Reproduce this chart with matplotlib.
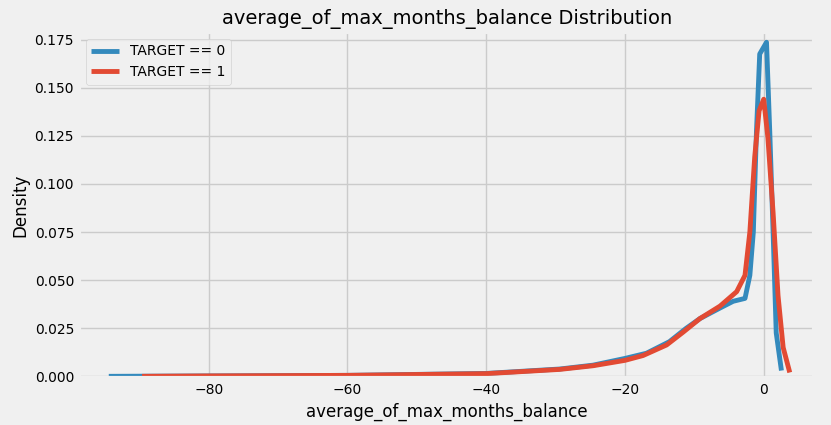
import numpy as np
import matplotlib
matplotlib.use('agg')
import matplotlib.pyplot as plt

plt.style.use('fivethirtyeight')
plt.rcParams['font.size'] = 10

# curves
x0 = [-94.4, -80, -60, -40, -29.4, -24.6, -20, -16.9, -13.6, -11.2, -9.2, -6.3, -4.4, -2.7, -2.0, -1.5,
      -1.05, -0.58, 0.4, 0.87, 1.35, 1.8, 2.55]
y0 = [0.0, 0.0002, 0.0005, 0.0015, 0.0038, 0.0058, 0.0093, 0.012, 0.018, 0.0249, 0.030, 0.0355, 0.039,
      0.0405, 0.0525, 0.075, 0.127, 0.1675, 0.1736, 0.127, 0.075, 0.0226, 0.003]
x1 = [-89.6, -80, -60, -40, -29.4, -24.6, -20, -17.4, -14, -11.6, -9.2, -6.3, -3.9, -2.7, -2.0, -1.3,
      -0.67, 0.0, 0.6, 1.35, 2.06, 2.8, 3.75]
y1 = [0.0, 0.0002, 0.0005, 0.0014, 0.0036, 0.0055, 0.0083, 0.0108, 0.0163, 0.023, 0.030, 0.0365, 0.044,
      0.0525, 0.075, 0.114, 0.138, 0.144, 0.124, 0.085, 0.042, 0.015, 0.002]

fig = plt.figure(figsize=(8.31, 4.25), dpi=100)
ax = fig.add_subplot(111)
ax.plot(x0, y0, lw=3.5, color='#348ABD', label='TARGET == 0')
ax.plot(x1, y1, lw=3.5, color='#E24A33', label='TARGET == 1')
ax.set_xlim(-98.7, 7.3)
ax.set_ylim(-0.001, 0.179)
ax.set_xticks([-80, -60, -40, -20, 0])
ax.set_yticks(np.arange(0, 0.176, 0.025))
ax.yaxis.set_major_formatter(matplotlib.ticker.FormatStrFormatter('%.3f'))
ax.tick_params(labelsize=10)
ax.set_xlabel('average_of_max_months_balance', fontsize=12)
ax.set_ylabel('Density', fontsize=12)
ax.set_title('average_of_max_months_balance Distribution', fontsize=14)
leg = ax.legend(loc='upper left', fontsize=10, frameon=True)
leg.get_frame().set_facecolor('#f0f0f0')
fig.subplots_adjust(left=0.095, right=0.98, top=0.925, bottom=0.11)
fig.savefig('out.png', dpi=100)
